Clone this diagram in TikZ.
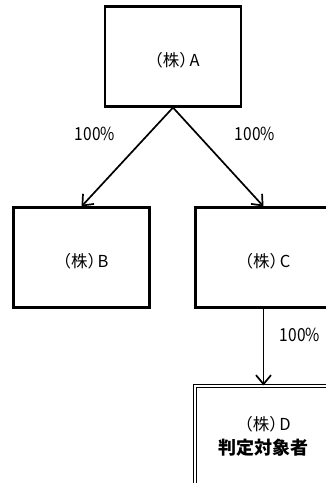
\documentclass[tikz,border=0pt]{standalone}
\usepackage{fontspec}
\setmainfont{Noto Sans CJK JP}
\newfontfamily\pctfont{Noto Sans CJK JP}[FakeStretch=0.86]
\usepackage{tikz}
\usetikzlibrary{
    arrows.meta,
    positioning
}
\newcommand{\kabu}[1]{（株）\kern-6.5pt#1}

\begin{document}
\begin{tikzpicture}[x=1pt, y=-1pt,
    kabubox/.style={draw, line width=2.1pt, minimum width=136pt, minimum height=100pt, inner sep=0pt, text height=21pt, text depth=2pt, font=\fontsize{16.5}{18}\selectfont},
    target/.style={draw, double, line width=1.1pt, double distance=2.6pt, minimum width=137pt, minimum height=100pt, inner sep=0pt, align=center, font=\fontsize{16.5}{18}\selectfont},
    pct/.style={font=\pctfont\fontsize{18}{20}\selectfont},
    own/.style={line width=1.7pt, -{Straight Barb[length=9pt, width=15pt, line width=1.7pt]}}]
                        \useasboundingbox (0, 0) rectangle (326, 483);
                        \clip (0, 0) rectangle (326, 483);
                        \node[kabubox] (a) at (173, 56.5) {\kabu{A}};
                        \node[kabubox] (b) at (81.5, 257.5) {\kabu{B}};
                        \node[kabubox] (c) at (263.5, 257.5) {\kabu{C}};
                        \node[target] (d) at (263.5, 436) {\kabu{D}\\[6pt]{\fontsize{18}{20}\selectfont\bfseries 判定対象者}};
                        \draw[own] (a.south) -- (b.north);
                        \draw[own] (a.south) -- (c.north);
                        \draw[own] (c.south) -- (d.north);
                        \node[pct] (ab) at (95, 134) {100\%};
                        \node[pct] (ac) at (255, 134) {100\%};
                        \node[pct] (cd) at (300, 334.5) {100\%};
                    \end{tikzpicture}
\end{document}
